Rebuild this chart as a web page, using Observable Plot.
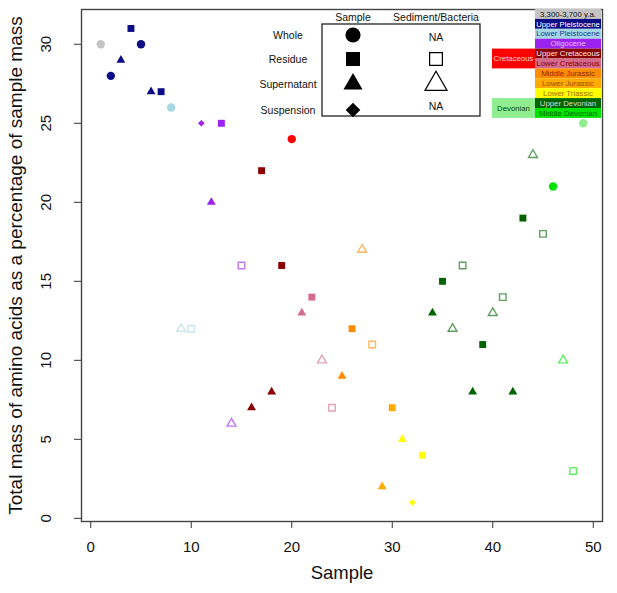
<!DOCTYPE html>
<html><head><meta charset="utf-8">
<script src="https://cdn.jsdelivr.net/npm/d3@7"></script>
<script src="https://cdn.jsdelivr.net/npm/@observablehq/plot@0.6"></script>
<style>body{margin:0;background:#fff;} svg{display:block;}</style>
</head><body><div id="chart"></div>
<script>
// ---- data ----
const samples = [1,2,3,4,5,6,7,8,9,10,11,12,13,14,15,16,17,18,19,20,21,22,23,24,25,26,27,28,29,30,31,32,33,34,35,36,37,38,39,40,41,42,43,44,45,46,47,48,49];
const masses  = [30,28,29,31,30,27,27,26,12,12,25,20,25,6,16,7,22,8,16,24,13,14,10,7,9,12,17,11,2,7,5,1,4,13,15,12,16,8,11,13,14,8,19,23,18,21,10,3,25];
const fractions = ["Whole","Whole","Supernatant","Residue","Whole","Supernatant","Residue","Whole","Supernatant","Residue",
  "Suspension","Supernatant","Residue","Supernatant","Residue","Supernatant","Residue","Supernatant","Residue","Whole",
  "Supernatant","Residue","Supernatant","Residue","Supernatant","Residue","Supernatant","Residue","Supernatant","Residue",
  "Supernatant","Suspension","Residue","Supernatant","Residue","Supernatant","Residue","Supernatant","Residue","Supernatant",
  "Residue","Supernatant","Residue","Supernatant","Residue","Whole","Supernatant","Residue","Whole"];
const sources = ["Sample","Sample","Sample","Sample","Sample","Sample","Sample","Sample","Sediment","Sediment",
  "Sample","Sample","Sample","Sediment","Sediment","Sample","Sample","Sample","Sample","Sample",
  "Sample","Sample","Sediment","Sediment","Sample","Sample","Sediment","Sediment","Sample","Sample",
  "Sample","Sample","Sample","Sample","Sample","Sediment","Sediment","Sample","Sample","Sediment",
  "Sediment","Sample","Sample","Sediment","Sediment","Sample","Sediment","Sediment","Sample"];
const periods = ["3,300-3,700 y.a.",
  "Upper Pleistocene","Upper Pleistocene","Upper Pleistocene","Upper Pleistocene","Upper Pleistocene","Upper Pleistocene",
  "Lower Pleistocene","Lower Pleistocene","Lower Pleistocene",
  "Oligocene","Oligocene","Oligocene","Oligocene","Oligocene",
  "Upper Cretaceous","Upper Cretaceous","Upper Cretaceous","Upper Cretaceous","Cretaceous",
  "Lower Cretaceous","Lower Cretaceous","Lower Cretaceous","Lower Cretaceous",
  "Middle Jurassic","Middle Jurassic","Middle Jurassic","Middle Jurassic",
  "Lower Jurassic","Lower Jurassic",
  "Lower Triassic","Lower Triassic","Lower Triassic",
  "Upper Devonian","Upper Devonian","Upper Devonian","Upper Devonian","Upper Devonian","Upper Devonian",
  "Upper Devonian","Upper Devonian","Upper Devonian","Upper Devonian","Upper Devonian","Upper Devonian",
  "Middle Devonian","Middle Devonian","Middle Devonian","Devonian"];

const periodNames  = ["3,300-3,700 y.a.","Upper Pleistocene","Lower Pleistocene","Oligocene","Upper Cretaceous","Lower Cretaceous","Middle Jurassic","Lower Jurassic","Lower Triassic","Upper Devonian","Middle Devonian"];
const periodColors = ["#c4c4c4","#0c0c86","#a6d7e4","#9b22ef","#8b0000","#d46a8c","#ff8c00","#ffaa00","#ffff00","#006400","#00e400"];
const periodText   = ["#111111","#ffffff","#22408a","#e8c0ff","#ffe8e8","#8b0000","#8b2500","#9a4a00","#a06a00","#d8d8d8","#006400"];
const groupNames   = ["Cretaceous","Devonian"];
const groupColors  = ["#ff0000","#90ee90"];
const groupText    = ["#ffd4d4","#0a4a0a"];
const groupRows    = [[4,5],[9,10]];

const fractionNames = ["Whole","Residue","Supernatant","Suspension"];
const fractionSymbols = ["circle","square","triangle","diamond2"];
const xTicks = [0,10,20,30,40,50];
const yTicks = [0,5,10,15,20,25,30];

const data = samples.map((s,i)=>({sample:s, mass:masses[i], fraction:fractions[i], source:sources[i], period:periods[i]}));

const colorDomain = periodNames.concat(groupNames);
const colorRange = periodColors.concat(groupColors);
const colorOf = p => colorRange[colorDomain.indexOf(p)];

const filledR = {Whole:4.2, Residue:3.9, Supernatant:3.3, Suspension:3.0};
const openR   = {Residue:3.7, Supernatant:3.3};

const dotMarks = [];
for (const f of fractionNames) {
  const sym = fractionSymbols[fractionNames.indexOf(f)];
  dotMarks.push(Plot.dot(data.filter(d=>d.fraction===f && d.source==="Sample"),
    {x:"sample", y:"mass", symbol:()=>sym, r:filledR[f], fill:d=>colorOf(d.period), stroke:"none"}));
  if (openR[f]) dotMarks.push(Plot.dot(data.filter(d=>d.fraction===f && d.source==="Sediment"),
    {x:"sample", y:"mass", symbol:()=>sym, r:openR[f], fill:"white", stroke:d=>colorOf(d.period), strokeOpacity:0.62, strokeWidth:1.4}));
}

const svg = Plot.plot({
  width: 617, height: 593,
  marginLeft: 81, marginRight: 15, marginTop: 9, marginBottom: 72,
  style: {fontFamily: "'Liberation Sans', Arial, sans-serif", background: "white", color: "#111"},
  x: {domain: [-0.92, 50.92], label: null},
  y: {domain: [-0.2, 32.2], label: null},
  symbol: {type: "identity"},
  marks: [
    Plot.axisX({ticks: xTicks, tickSize: 7, tickPadding: 13, fontSize: 15, label: null, stroke:"#333"}),
    Plot.axisY({ticks: yTicks, tickSize: 7, tickFormat: () => "", label: null, stroke:"#333"}),
    Plot.text(yTicks, {y: d=>d, text: d=>String(d), frameAnchor: "left", textAnchor: "middle", dx: -35, rotate: -90, fontSize: 15, fill:"#111"}),
    Plot.text(["Sample"], {frameAnchor: "bottom", dy: 57, fontSize: 18.5, fill:"#111"}),
    Plot.text(["Total mass of amino acids as a percentage of sample mass"], {frameAnchor: "left", textAnchor: "middle", dx: -66, rotate: -90, fontSize: 19, fill:"#111"}),
    ...dotMarks,
    Plot.frame({stroke: "#444", strokeWidth: 1.4})
  ]
});

// ---- legends ----
const g = d3.select(svg).append("g").attr("font-family", "'Liberation Sans', Arial, sans-serif");
// symbol legend
const colX = [353, 436];
const rowY = [35, 59, 84, 110];
g.append("rect").attr("x",322).attr("y",24).attr("width",158).attr("height",92)
  .attr("fill","white").attr("stroke","#222").attr("stroke-width",1.3);
g.selectAll("text.hdr").data(["Sample","Sediment/Bacteria"]).join("text")
  .attr("x",(d,i)=>colX[i]).attr("y",17).attr("text-anchor","middle").attr("dy","0.35em")
  .attr("font-size",10.5).attr("fill","#111").text(d=>d);
g.selectAll("text.row").data(fractionNames).join("text")
  .attr("x",288).attr("y",(d,i)=>rowY[i]).attr("text-anchor","middle").attr("dy","0.35em")
  .attr("font-size",10.5).attr("fill","#111").text(d=>d);
const bigFilled = [7.6, 7.9, 7.1, 6.6];
const symType = {circle:d3.symbolCircle, square:d3.symbolSquare, triangle:d3.symbolTriangle, diamond2:d3.symbolDiamond2};
fractionNames.forEach((f,i)=>{
  const sym = symType[fractionSymbols[i]];
  g.append("path").attr("transform",`translate(${colX[0]},${rowY[i]})`)
    .attr("d", d3.symbol(sym, Math.PI*bigFilled[i]*bigFilled[i])()).attr("fill","#000");
});
const openBig = {Residue:7.2, Supernatant:8.2};
fractionNames.forEach((f,i)=>{
  if (openBig[f]) {
    const sym = symType[fractionSymbols[i]];
    g.append("path").attr("transform",`translate(${colX[1]},${rowY[i]})`)
      .attr("d", d3.symbol(sym, Math.PI*openBig[f]*openBig[f])()).attr("fill","white").attr("stroke","#000").attr("stroke-width",1.2);
  } else {
    g.append("text").attr("x",colX[1]).attr("y",rowY[i] + (i===0?2:-4)).attr("text-anchor","middle").attr("dy","0.35em")
      .attr("font-size",10.5).attr("fill","#111").text("NA");
  }
});
// colour legend
const cx0 = 535, cw = 66, cy0 = 9, ch = 9.9;
periodNames.forEach((p,i)=>{
  g.append("rect").attr("x",cx0).attr("y",cy0+i*ch).attr("width",cw).attr("height",ch).attr("fill",periodColors[i]);
  g.append("text").attr("x",cx0+cw/2).attr("y",cy0+i*ch+ch/2).attr("dy","0.35em").attr("text-anchor","middle")
    .attr("font-size",7.8).attr("fill",periodText[i]).text(p);
});
groupNames.forEach((p,i)=>{
  const r = groupRows[i];
  const y0 = cy0 + r[0]*ch, h = (r[1]-r[0]+1)*ch;
  g.append("rect").attr("x",492).attr("y",y0).attr("width",cx0-492).attr("height",h).attr("fill",groupColors[i]);
  g.append("text").attr("x",492+(cx0-492)/2).attr("y",y0+h/2).attr("dy","0.35em").attr("text-anchor","middle")
    .attr("font-size",7.8).attr("fill",groupText[i]).text(p);
});

document.getElementById("chart").appendChild(svg);
</script>
</body></html>
